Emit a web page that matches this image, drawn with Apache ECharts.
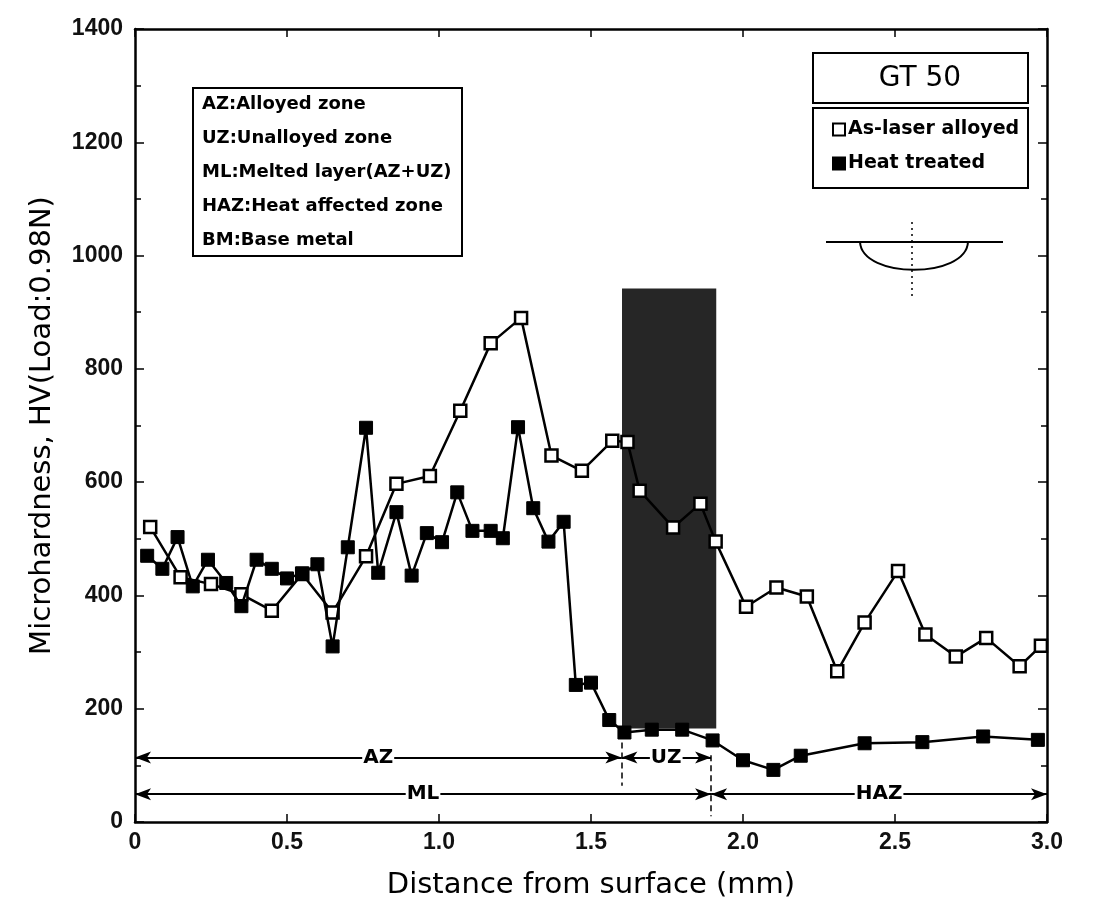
<!DOCTYPE html>
<html>
<head>
<meta charset="utf-8">
<script src="https://cdn.jsdelivr.net/npm/echarts@6/dist/echarts.min.js"></script>
<style>
html,body{margin:0;padding:0;background:#fff;}
#chart{width:1094px;height:907px;}
</style>
</head>
<body>
<div id="chart"></div>
<script>
// ---- data ----
const asLaserX = [0.05,0.15,0.25,0.35,0.45,0.55,0.65,0.76,0.86,0.97,1.07,1.17,1.27,1.37,1.47,1.57,1.62,1.66,1.77,1.86,1.91,2.01,2.11,2.21,2.31,2.40,2.51,2.60,2.70,2.80,2.91,2.98];
const asLaserY = [521,432,420,402,373,438,370,469,597,611,726,845,890,647,620,673,671,585,520,562,495,380,414,398,266,352,443,331,292,325,275,311];
const heatX = [0.04,0.09,0.14,0.19,0.24,0.30,0.35,0.40,0.45,0.50,0.55,0.60,0.65,0.70,0.76,0.80,0.86,0.91,0.96,1.01,1.06,1.11,1.17,1.21,1.26,1.31,1.36,1.41,1.45,1.50,1.56,1.61,1.70,1.80,1.90,2.00,2.10,2.19,2.40,2.59,2.79,2.97];
const heatY = [470,447,503,416,463,422,381,463,447,430,439,455,310,485,696,440,547,435,510,494,582,514,514,501,697,554,495,530,242,246,180,158,163,163,144,109,92,117,139,141,151,145];
const xTicks = ['0','0.5','1.0','1.5','2.0','2.5','3.0'];
const yTicks = ['0','200','400','600','800','1000','1200','1400'];
// zone annotations
const zoneNames = ['AZ','UZ','ML','HAZ'];
const zoneStart = [0, 1.6, 0, 1.895];
const zoneEnd = [1.6, 1.895, 1.895, 3.0];
const zoneLevel = [114, 114, 49, 49];
// zone boundary verticals
const boundX = [1.6, 1.895];
const boundFrom = [158, 118];
const boundTo = [64, 10];
// shaded UZ band (from x, to x, low HV, high HV)
const band = [1.602, 1.912, 165, 942];
const legendNotes = ['AZ:Alloyed zone','UZ:Unalloyed zone','ML:Melted layer(AZ+UZ)','HAZ:Heat affected zone','BM:Base metal'];

const FONT = "'Liberation Sans', Arial, Helvetica, sans-serif";
const WIDE = "'DejaVu Sans', Verdana, sans-serif";
const chart = echarts.init(document.getElementById('chart'), null, {renderer:'canvas'});

const zoneLines = zoneNames.map((n,i)=>[
  {coord:[zoneStart[i], zoneLevel[i]], name:n},
  {coord:[zoneEnd[i], zoneLevel[i]]}
]);
const boundLines = boundX.map((x,i)=>[
  {coord:[x, boundFrom[i]]},
  {coord:[x, boundTo[i]]}
]);

const noteGraphics = legendNotes.map((t,i)=>({
  type:'text', x:202, y:104 + i*34,
  style:{text:t, font:"bold 18px "+WIDE, fill:'#000', verticalAlign:'middle'}
}));

const option = {
  animation:false,
  backgroundColor:'#fff',
  grid:{left:135, right:47, top:29, bottom:85, show:false},
  xAxis:[{
    type:'value', min:0, max:3, interval:0.5,
    name:'Distance from surface (mm)', nameLocation:'middle', nameGap:49,
    nameTextStyle:{fontFamily:WIDE, fontSize:29, color:'#000'},
    axisLine:{show:true, onZero:false, lineStyle:{color:'#000', width:2.5}},
    axisTick:{show:true, inside:true, length:8, lineStyle:{color:'#000', width:1.5}},
    axisLabel:{fontFamily:FONT, fontSize:23, fontWeight:'bold', color:'#111', margin:9,
      formatter:(v)=>xTicks[Math.round(v/0.5)]},
    splitLine:{show:false}
  },{
    type:'value', min:0, max:3, interval:0.5, position:'top',
    axisLine:{show:true, onZero:false, lineStyle:{color:'#000', width:2.5}},
    axisTick:{show:true, inside:true, length:8, lineStyle:{color:'#000', width:1.5}},
    axisLabel:{show:false}, splitLine:{show:false}
  }],
  yAxis:[{
    type:'value', min:0, max:1400, interval:200,
    name:'Microhardness, HV(Load:0.98N)', nameLocation:'middle', nameGap:78,
    nameTextStyle:{fontFamily:WIDE, fontSize:29, color:'#000'},
    axisLine:{show:true, onZero:false, lineStyle:{color:'#000', width:2.5}},
    axisTick:{show:true, inside:true, length:9, lineStyle:{color:'#000', width:1.5}},
    minorTick:{show:true, splitNumber:2, length:6, lineStyle:{color:'#000', width:1.5}},
    axisLabel:{fontFamily:FONT, fontSize:23, fontWeight:'bold', color:'#111', margin:12,
      formatter:(v)=>yTicks[Math.round(v/200)]},
    splitLine:{show:false}
  },{
    type:'value', min:0, max:1400, interval:200, position:'right',
    axisLine:{show:true, onZero:false, lineStyle:{color:'#000', width:2.5}},
    axisTick:{show:true, inside:true, length:9, lineStyle:{color:'#000', width:1.5}},
    minorTick:{show:true, splitNumber:2, length:6, lineStyle:{color:'#000', width:1.5}},
    axisLabel:{show:false}, splitLine:{show:false}
  }],
  legend:{
    left:832, top:120, orient:'vertical', itemGap:15, padding:0,
    itemWidth:12, itemHeight:12, icon:'rect',
    textStyle:{fontFamily:WIDE, fontSize:19, fontWeight:'bold', color:'#000', padding:[0,0,0,-2]},
    data:['As-laser alloyed','Heat treated']
  },
  series:[
    {
      type:'line', name:'band', silent:true, data:[], z:1,
      markArea:{silent:true,
        itemStyle:{color:'#262626'},
        data:[[{coord:[band[0], band[2]]},{coord:[band[1], band[3]]}]]}
    },
    {
      type:'line', name:'As-laser alloyed', z:3,
      data: asLaserX.map((x,i)=>[x, asLaserY[i]]),
      symbol:'rect', symbolSize:12, showAllSymbol:true,
      lineStyle:{color:'#000', width:2.5},
      itemStyle:{color:'#fff', borderColor:'#000', borderWidth:2.5}
    },
    {
      type:'line', name:'Heat treated', z:4,
      data: heatX.map((x,i)=>[x, heatY[i]]),
      symbol:'rect', symbolSize:13, showAllSymbol:true,
      lineStyle:{color:'#000', width:2.5},
      itemStyle:{color:'#000', borderColor:'#000', borderWidth:1}
    },
    {
      type:'line', name:'zones', silent:true, data:[], z:2,
      markLine:{
        silent:true, symbol:['arrow','arrow'], symbolSize:[9,16],
        lineStyle:{color:'#000', width:2, type:'solid'},
        label:{show:true, position:'middle', distance:0, verticalAlign:'middle', formatter:(p)=>p.name,
          fontFamily:WIDE, fontSize:20, fontWeight:'bold', color:'#000',
          backgroundColor:'#fff', padding:[0,1]},
        data: zoneLines
      }
    },
    {
      type:'line', name:'bounds', silent:true, data:[], z:2,
      markLine:{
        silent:true, symbol:['none','none'],
        lineStyle:{color:'#000', width:1.5, type:[6,4]},
        label:{show:false},
        data: boundLines
      }
    }
  ],
  graphic:[
    {type:'rect', shape:{x:813, y:53, width:215, height:50}, style:{fill:'#fff', stroke:'#000', lineWidth:2}},
    {type:'text', x:920, y:79, style:{text:'GT 50', font:"28px "+WIDE, fill:'#000', align:'center', verticalAlign:'middle'}},
    {type:'rect', shape:{x:813, y:108, width:215, height:80}, style:{fill:'none', stroke:'#000', lineWidth:2}},
    {type:'rect', shape:{x:193, y:88, width:269, height:168}, style:{fill:'none', stroke:'#000', lineWidth:2}},
    ...noteGraphics,
    {type:'line', shape:{x1:826, y1:242, x2:1003, y2:242}, style:{stroke:'#000', lineWidth:2}},
    {type:'bezierCurve', shape:{x1:860, y1:242, cpx1:862, cpy1:279, cpx2:966, cpy2:279, x2:968, y2:242}, style:{fill:'none', stroke:'#000', lineWidth:2}},
    {type:'line', shape:{x1:912, y1:222, x2:912, y2:298}, style:{stroke:'#000', lineWidth:1.5, lineDash:[2,4]}}
  ]
};
chart.setOption(option);
</script>
</body>
</html>
